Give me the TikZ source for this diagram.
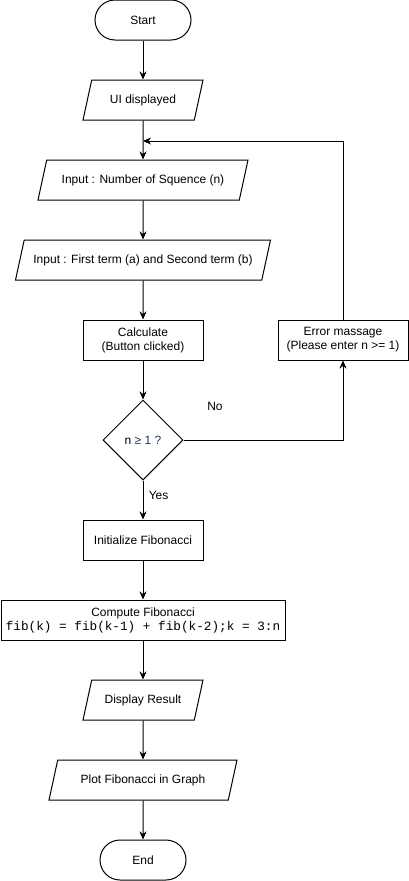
\documentclass[tikz,border=0pt]{standalone}
\usepackage{fontspec}
\setmainfont{Liberation Sans}
\setmonofont{Liberation Mono}
\usetikzlibrary{shapes.geometric,arrows.meta,positioning}
\tikzset{>={Stealth[length=8pt,width=7pt,inset=2.5pt]}}
\definecolor{navy}{RGB}{30,55,90}

\begin{document}
\begin{tikzpicture}[x=1pt, y=-1pt, line width=1pt,
    every node/.style={font=\fontsize{12}{14}\selectfont},
    term/.style={draw, rounded corners=20pt, minimum width=96pt, minimum height=40pt},
    io/.style={draw, trapezium, trapezium left angle=64, trapezium right angle=116,
      trapezium stretches body, minimum height=40pt},
    proc/.style={draw, minimum height=40pt, align=center},
    dec/.style={draw, diamond, minimum width=80pt, minimum height=80pt, inner sep=0pt}]
  \useasboundingbox (0,0) rectangle (408,881);

  \node[term] (start) at (143,20) {Start};
  \node[io, minimum width=120pt] (ui) at (143,100) {UI displayed};
  \node[io, minimum width=210pt] (num) at (143,180) {Input : Number of Squence (n)};
  \node[io, minimum width=255pt] (terms) at (143,260) {Input : First term (a) and Second term (b)};
  \node[proc, minimum width=120pt] (calc) at (143,340) {Calculate\\(Button clicked)};
  \node[proc, minimum width=130pt] (err) at (343,340) {Error massage\\(Please enter n >= 1)};
  \node[dec] (check) at (143,440) {n {\color{navy}≥ 1 ?}};
  \node (no) at (215,406) {No};
  \node[proc, minimum width=120pt] (init) at (143,540) {Initialize Fibonacci};
  \node[proc, minimum width=284pt] (comp) at (143,620)
    {Compute Fibonacci\\{\ttfamily\fontsize{12.7}{14}\selectfont fib(k) = fib(k-1) + fib(k-2);k = 3:n}};
  \node[io, minimum width=120pt] (disp) at (143,700) {Display Result};
  \node[io, minimum width=188pt] (plot) at (143,780) {Plot Fibonacci in Graph};
  \node[term, minimum width=86pt] (end) at (143,860) {End};
  \coordinate (join) at (143,141);

  \draw[->] (start) -- (ui);
  \draw[->] (ui) -- (num);
  \draw[->] (num) -- (terms);
  \draw[->] (terms) -- (calc);
  \draw[->] (calc) -- (check);
  \draw[->] (check.east) -| (err.south);
  \draw[->] (err.north) |- (join);
  \draw[->] (check) -- (init) node[pos=0.375, right, xshift=2pt] {Yes};
  \draw[->] (init) -- (comp);
  \draw[->] (comp) -- (disp);
  \draw[->] (disp) -- (plot);
  \draw[->] (plot) -- (end);
\end{tikzpicture}
\end{document}
